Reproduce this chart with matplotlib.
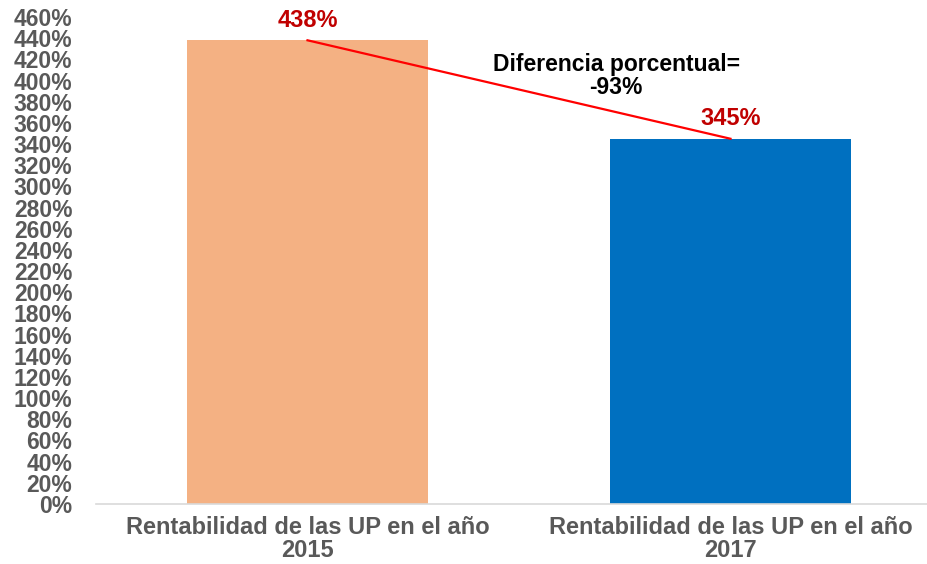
import matplotlib.pyplot as plt
from matplotlib.ticker import MultipleLocator, FuncFormatter

plt.rcParams['font.family'] = ['Liberation Sans', 'DejaVu Sans']

categories = ['Rentabilidad de las UP en el año\n2015',
              'Rentabilidad de las UP en el año\n2017']
values = [438, 345]
bar_colors = ['#F4B183', '#0070C0']
diff_label = 'Diferencia porcentual=\n-93%'

fig = plt.figure(figsize=(9.27, 5.64), dpi=100)
ax = fig.add_axes([96 / 927, 60 / 564, 846 / 927, 487 / 564])

x = list(range(len(categories)))
ax.bar(x, values, width=0.57, color=bar_colors, zorder=2)

# value labels above each bar
for xi, v in zip(x, values):
    ax.text(xi, v + 8, f'{v}%', ha='center', va='bottom', color='#C00000',
            fontsize=17, fontweight='bold')

# line joining the tops of both bars
ax.plot(x, values, color='#FF0000', lw=1.6, zorder=3)
ax.text(0.73, 426, diff_label, ha='center', va='top', color='black',
        fontsize=16.5, fontweight='bold', linespacing=1.0)

ax.set_xlim(-0.5, 1.5)
ax.set_ylim(0, 460)
ax.yaxis.set_major_locator(MultipleLocator(20))
ax.yaxis.set_major_formatter(FuncFormatter(lambda v, p: f'{v:.0f}%'))
ax.set_xticks(x)
ax.set_xticklabels(categories, fontsize=17, fontweight='bold', color='#595959',
                   linespacing=0.95)
for lab in ax.get_yticklabels():
    lab.set_fontsize(16.5)
    lab.set_fontweight('bold')
    lab.set_color('#595959')

ax.tick_params(axis='both', length=0)
ax.tick_params(axis='y', pad=17)
ax.tick_params(axis='x', pad=9)
for s in ['top', 'right', 'left']:
    ax.spines[s].set_visible(False)
ax.spines['bottom'].set_color('#D9D9D9')
ax.spines['bottom'].set_linewidth(1.2)

fig.savefig('out.png', dpi=100)
